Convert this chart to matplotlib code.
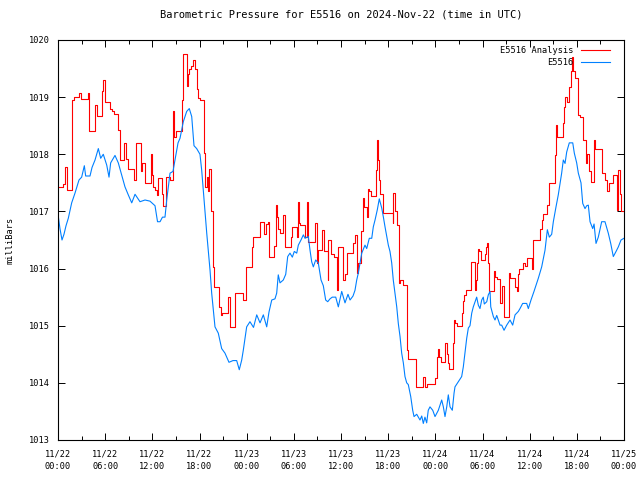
import matplotlib
matplotlib.use("Agg")
import matplotlib.pyplot as plt

# hours since 2024-11-22 00:00 UTC and pressure in mb
red_hours = [0, 0.67, 0.89, 1.1, 1.18, 1.74, 1.82, 2.07, 2.67, 2.93, 3.86, 3.9, 3.98, 4.71, 5.0,
             5.64, 5.76, 5.98, 6.61, 6.9, 7.12, 7.67, 7.89, 8.43, 8.65, 8.87, 9.71, 9.96, 10.56,
             10.72, 11.07, 11.79, 11.92, 12.12, 12.34, 12.56, 12.76, 13.19, 13.32, 13.74, 14.25,
             14.67, 14.76, 15.01, 15.74, 15.86, 15.94, 16.45, 16.54, 16.7, 16.88, 17.21, 17.43,
             17.64, 17.85, 18.06, 18.57, 18.74, 18.92, 19.04, 19.25, 19.43, 19.68, 19.85, 20.48,
             20.7, 20.82, 21.67, 21.88, 22.52, 23.5, 23.92, 24.64, 24.85, 25.7, 26.25, 26.42,
             26.71, 26.84, 27.52, 27.7, 27.9, 28.03, 28.24, 28.66, 28.88, 29.6, 29.73, 30.37,
             30.57, 30.7, 30.79, 31.42, 31.64, 31.76, 32.69, 32.91, 33.11, 33.62, 33.88, 34.31,
             34.39, 34.73, 35.15, 35.45, 35.66, 36.3, 36.51, 36.73, 37.57, 37.79, 38.0, 38.21,
             38.5, 38.76, 38.93, 39.27, 39.47, 39.6, 39.82, 40.45, 40.62, 40.75, 40.88, 40.96,
             41.38, 42.58, 42.65, 42.87, 43.09, 43.38, 43.51, 43.85, 44.36, 44.56, 45.54, 46.47,
             46.68, 46.98, 47.96, 48.25, 48.38, 48.5, 48.68, 49.23, 49.45, 49.65, 49.78, 50.29,
             50.38, 50.5, 50.72, 51.35, 51.48, 51.68, 51.9, 52.5, 53.05, 53.17, 53.34, 53.47,
             53.6, 53.77, 54.32, 54.45, 54.61, 54.74, 54.87, 55.46, 55.59, 55.81, 56.23, 56.44,
             56.74, 57.33, 57.5, 58.14, 58.43, 58.56, 58.68, 59.19, 59.41, 59.62, 60.26, 60.46,
             61.31, 61.53, 61.74, 62.25, 62.5, 63.23, 63.35, 63.44, 64.2, 64.41, 64.54, 64.71,
             65.04, 65.22, 65.39, 65.55, 65.77, 66.19, 66.4, 66.82, 67.17, 67.33, 67.55, 67.77,
             68.19, 68.36, 68.73, 69.16, 69.58, 69.88, 70.13, 70.56, 71.07, 71.28, 71.49, 71.62,
             72.0]
red_mb = [1017.42, 1017.48, 1017.78, 1017.5, 1017.37, 1018.13, 1018.95, 1019.0, 1019.07, 1018.96,
          1019.08, 1018.75, 1018.4, 1018.86, 1018.67, 1019.1, 1019.3, 1018.92, 1018.8, 1018.75,
          1018.7, 1018.43, 1017.9, 1018.2, 1017.92, 1017.75, 1017.55, 1018.19, 1017.7, 1017.85,
          1017.49, 1018.0, 1017.64, 1017.43, 1017.37, 1017.29, 1017.58, 1017.3, 1017.09, 1017.6,
          1017.55, 1018.75, 1018.3, 1018.4, 1018.95, 1019.65, 1019.75, 1019.2, 1019.4, 1019.5,
          1019.55, 1019.65, 1019.5, 1019.15, 1018.98, 1018.95, 1018.02, 1017.43, 1017.6, 1017.35,
          1017.75, 1017.0, 1016.03, 1015.68, 1015.33, 1015.19, 1015.23, 1015.5, 1014.98, 1015.57,
          1015.45, 1016.03, 1016.38, 1016.55, 1016.82, 1016.6, 1016.78, 1016.82, 1016.2, 1016.4,
          1017.11, 1016.9, 1016.7, 1016.62, 1016.94, 1016.38, 1016.55, 1016.72, 1016.55, 1017.17,
          1016.8, 1016.76, 1016.55, 1017.17, 1016.47, 1016.8, 1016.09, 1016.32, 1016.68, 1016.3,
          1015.8, 1016.5, 1016.25, 1016.2, 1015.62, 1016.37, 1015.8, 1015.9, 1016.27, 1016.45,
          1016.59, 1015.92, 1016.1, 1016.65, 1017.24, 1017.08, 1016.9, 1017.4, 1017.35, 1017.27,
          1017.72, 1018.25, 1017.9, 1017.55, 1017.3, 1016.98, 1016.8, 1017.32, 1017.0, 1016.76,
          1015.74, 1015.8, 1015.71, 1014.57, 1014.41, 1013.93, 1014.1, 1013.93, 1013.98, 1014.08,
          1014.46, 1014.6, 1014.45, 1014.37, 1014.69, 1014.5, 1014.35, 1014.25, 1014.69, 1015.1,
          1015.05, 1014.99, 1015.22, 1015.44, 1015.54, 1015.62, 1016.12, 1015.62, 1015.8, 1016.1,
          1016.35, 1016.3, 1016.15, 1016.25, 1016.38, 1016.44, 1016.1, 1015.6, 1015.95, 1015.85,
          1015.81, 1015.4, 1015.7, 1015.15, 1015.92, 1015.83, 1015.68, 1015.6, 1015.9, 1015.99,
          1016.1, 1016.05, 1016.18, 1016.0, 1016.5, 1016.7, 1016.85, 1016.95, 1017.11, 1017.49,
          1017.99, 1018.51, 1018.31, 1018.54, 1018.83, 1019.0, 1018.92, 1019.18, 1019.45, 1019.71,
          1019.45, 1019.33, 1018.69, 1018.65, 1018.25, 1017.84, 1018.0, 1017.7, 1017.52, 1018.25,
          1018.1, 1018.09, 1017.67, 1017.55, 1017.35, 1017.5, 1017.64, 1017.03, 1017.72, 1017.3,
          1017.0, 1017.0]

blue_hours = [0, 0.25, 0.51, 0.76, 1.02, 1.31, 1.74, 2.16, 2.67, 3.01, 3.35, 3.52, 4.07, 4.33,
              4.71, 5.13, 5.43, 5.76, 6.2, 6.49, 6.7, 7.25, 7.67, 8.1, 8.52, 8.94, 9.38, 9.8,
              10.43, 11.07, 11.7, 12.34, 12.66, 12.98, 13.29, 13.61, 13.83, 14.25, 14.63, 14.88,
              15.27, 15.52, 15.94, 16.37, 16.7, 17.01, 17.3, 17.64, 18.06, 18.28, 18.48, 18.7,
              18.92, 19.12, 19.34, 19.55, 19.76, 19.97, 20.39, 20.82, 21.24, 21.75, 22.26, 22.73,
              23.06, 23.37, 23.57, 24.0, 24.42, 24.87, 25.28, 25.7, 26.12, 26.55, 26.84, 27.19,
              27.6, 27.82, 28.02, 28.24, 28.66, 28.97, 29.22, 29.51, 29.81, 30.06, 30.37, 30.57,
              30.91, 31.21, 31.42, 31.84, 32.06, 32.27, 32.48, 32.78, 33.11, 33.46, 33.75, 34.05,
              34.31, 34.6, 34.89, 35.33, 35.66, 36.09, 36.51, 36.89, 37.15, 37.53, 37.78, 38.0,
              38.2, 38.42, 38.64, 39.05, 39.27, 39.6, 39.91, 40.11, 40.33, 40.62, 40.87, 41.18,
              41.38, 41.6, 42.02, 42.23, 42.45, 42.65, 42.87, 43.09, 43.29, 43.51, 43.72, 43.93,
              44.14, 44.36, 44.56, 44.87, 45.12, 45.29, 45.63, 46.05, 46.27, 46.47, 46.68, 46.9,
              47.1, 47.32, 47.67, 47.96, 48.38, 48.81, 49.02, 49.23, 49.45, 49.65, 49.87, 50.16,
              50.38, 50.5, 50.92, 51.35, 51.56, 51.77, 51.99, 52.2, 52.41, 52.63, 52.83, 53.05,
              53.26, 53.47, 53.68, 53.9, 54.1, 54.23, 54.54, 54.74, 54.96, 55.05, 55.38, 55.59,
              55.81, 56.01, 56.23, 56.44, 56.74, 57.08, 57.5, 57.84, 58.14, 58.56, 58.77, 59.11,
              59.62, 59.83, 60.17, 60.55, 61.1, 61.53, 61.95, 62.25, 62.5, 62.8, 63.01, 63.35,
              63.64, 63.86, 64.07, 64.28, 64.5, 64.71, 65.04, 65.48, 65.68, 65.98, 66.19, 66.53,
              66.75, 67.04, 67.26, 67.46, 67.68, 68.02, 68.19, 68.44, 68.73, 69.16, 69.58, 70.0,
              70.31, 70.64, 70.99, 71.28, 71.62, 72.0]
blue_mb = [1016.95, 1016.7, 1016.5, 1016.6, 1016.75, 1016.88, 1017.15, 1017.32, 1017.55, 1017.6,
           1017.8, 1017.62, 1017.62, 1017.77, 1017.9, 1018.1, 1017.93, 1018.0, 1017.81, 1017.6,
           1017.85, 1017.98, 1017.85, 1017.64, 1017.43, 1017.29, 1017.15, 1017.3, 1017.17, 1017.2,
           1017.18, 1017.1, 1016.82, 1016.82, 1016.9, 1016.9, 1017.2, 1017.67, 1017.7, 1017.9,
           1018.2, 1018.28, 1018.57, 1018.75, 1018.8, 1018.66, 1018.15, 1018.1, 1018.0, 1017.72,
           1017.37, 1016.97, 1016.62, 1016.32, 1015.97, 1015.57, 1015.27, 1014.98, 1014.87, 1014.6,
           1014.52, 1014.36, 1014.39, 1014.39, 1014.23, 1014.4, 1014.57, 1014.98, 1015.07, 1014.97,
           1015.19, 1015.05, 1015.19, 1014.98, 1015.24, 1015.45, 1015.47, 1015.57, 1015.89, 1015.75,
           1015.8, 1015.9, 1016.21, 1016.27, 1016.2, 1016.3, 1016.27, 1016.41, 1016.5, 1016.59,
           1016.53, 1016.56, 1016.32, 1016.12, 1016.03, 1016.15, 1016.1, 1015.8, 1015.7, 1015.45,
           1015.42, 1015.47, 1015.5, 1015.5, 1015.33, 1015.6, 1015.4, 1015.55, 1015.45, 1015.52,
           1015.62, 1015.8, 1015.92, 1016.1, 1016.27, 1016.41, 1016.35, 1016.53, 1016.53, 1016.73,
           1016.85, 1017.03, 1017.22, 1017.06, 1016.91, 1016.73, 1016.41, 1016.3, 1016.1, 1015.8,
           1015.57, 1015.33, 1015.04, 1014.81, 1014.52, 1014.35, 1014.11, 1014.0, 1013.97, 1013.76,
           1013.52, 1013.41, 1013.45, 1013.35, 1013.42, 1013.29, 1013.4, 1013.3, 1013.52, 1013.58,
           1013.52, 1013.41, 1013.52, 1013.7, 1013.58, 1013.41, 1013.58, 1013.79, 1013.58, 1013.52,
           1013.82, 1013.93, 1014.02, 1014.11, 1014.28, 1014.52, 1014.78, 1014.96, 1015.0, 1015.22,
           1015.33, 1015.42, 1015.5, 1015.36, 1015.3, 1015.45, 1015.5, 1015.38, 1015.42, 1015.54,
           1015.6, 1015.33, 1015.16, 1015.1, 1015.18, 1015.1, 1015.01, 1015.01, 1014.92, 1015.01,
           1015.1, 1015.01, 1015.19, 1015.25, 1015.3, 1015.39, 1015.39, 1015.3, 1015.45, 1015.6,
           1015.83, 1016.03, 1016.32, 1016.68, 1016.55, 1016.6, 1016.82, 1017.08, 1017.29, 1017.49,
           1017.67, 1017.9, 1017.84, 1018.04, 1018.2, 1018.2, 1018.02, 1017.85, 1017.67, 1017.5,
           1017.14, 1017.05, 1017.1, 1017.11, 1016.82, 1016.7, 1016.78, 1016.44, 1016.55, 1016.82,
           1016.82, 1016.62, 1016.44, 1016.21, 1016.3, 1016.38, 1016.5, 1016.53]

tick_hours = [0, 6, 12, 18, 24, 30, 36, 42, 48, 54, 60, 66, 72]
tick_labels = ["11/22\n00:00", "11/22\n06:00", "11/22\n12:00", "11/22\n18:00",
               "11/23\n00:00", "11/23\n06:00", "11/23\n12:00", "11/23\n18:00",
               "11/24\n00:00", "11/24\n06:00", "11/24\n12:00", "11/24\n18:00",
               "11/25\n00:00"]

plt.rcParams['font.family'] = ['DejaVu Sans Mono']
plt.rcParams['font.size'] = 6.2

fig = plt.figure(figsize=(6.4, 4.8), dpi=100)
ax = fig.add_axes([58/640, 40/480, 566/640, 400/480])

ax.plot(red_hours, red_mb, color='#ff0000', lw=0.8, drawstyle='steps-post', label='E5516 Analysis')
ax.plot(blue_hours, blue_mb, color='#0080ff', lw=0.8, label='E5516')

ax.set_xlim(0, 72)
ax.set_ylim(1013, 1020)
ax.set_xticks(tick_hours)
ax.set_xticklabels(tick_labels, linespacing=1.5)
ax.set_xticks(range(3, 72, 6), minor=True)
ax.set_yticks(range(1013, 1021))
ax.tick_params(which='both', direction='in', top=True, right=True, width=0.7)
ax.tick_params(axis='x', pad=7)
ax.tick_params(axis='y', pad=6)
ax.tick_params(which='major', length=5)
ax.tick_params(which='minor', length=3)
for s in ax.spines.values():
    s.set_linewidth(0.8)

ax.set_ylabel('milliBars', labelpad=10)
ax.set_title('Barometric Pressure for E5516 on 2024-Nov-22 (time in UTC)', pad=16)
ax.legend(loc='upper right', bbox_to_anchor=(1 - 11.4/566, 1 - 3.5/400), frameon=False,
          markerfirst=False, handlelength=3.4, borderaxespad=0, labelspacing=0.35,
          handletextpad=0.8, borderpad=0.3)

fig.savefig('out.png', dpi=100)
